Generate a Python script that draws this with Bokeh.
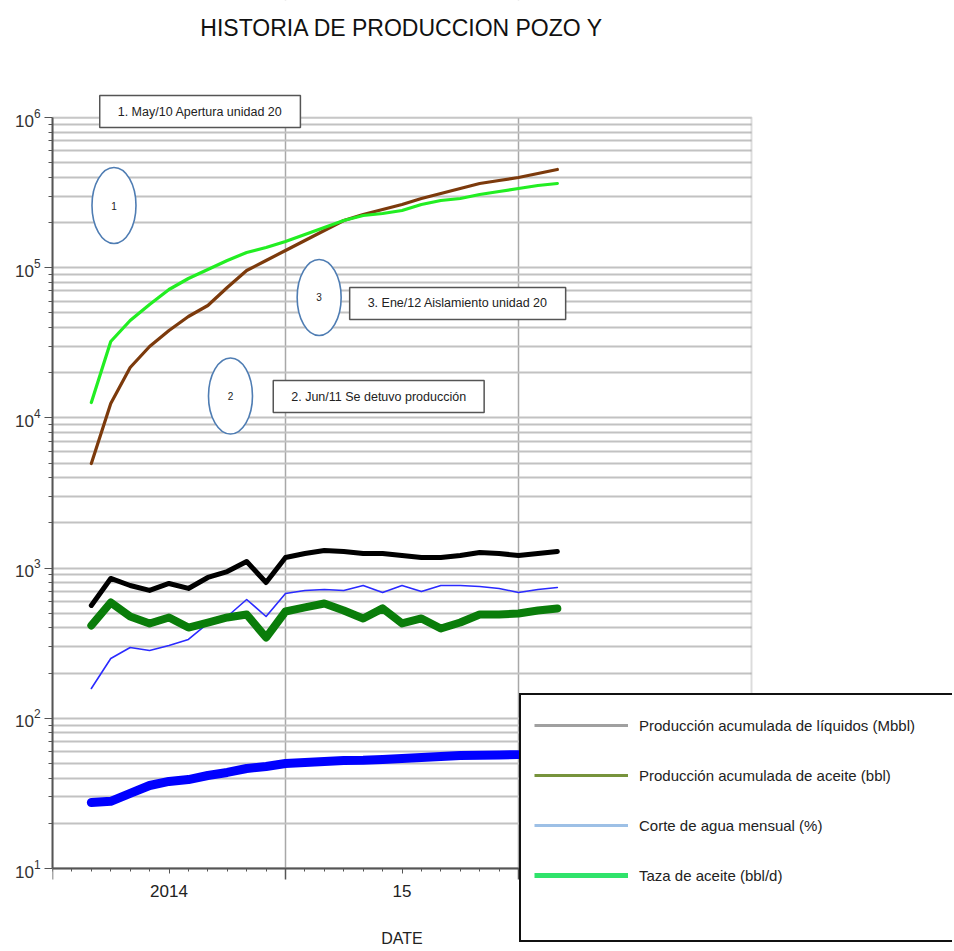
from bokeh.plotting import figure
from bokeh.models import (Range1d, FixedTicker, Label, Legend, LegendItem, BoxAnnotation,
                          LinearAxis)
from bokeh.core.properties import value
from bokeh.embed import file_html
from bokeh.resources import INLINE

# ---------------- data ----------------
fechas = ["2014-03", "2014-04", "2014-05", "2014-06", "2014-07", "2014-08", "2014-09",
          "2014-10", "2014-11", "2014-12", "2015-01", "2015-02", "2015-03", "2015-04",
          "2015-05", "2015-06", "2015-07", "2015-08", "2015-09", "2015-10", "2015-11",
          "2015-12", "2016-01", "2016-02", "2016-03"]

serie_marron = [4970, 12470, 21660, 29890, 38170, 47330, 56020, 73830, 95810, 111700,
                130200, 151800, 176800, 206200, 226000, 244000, 263500, 288800, 311900,
                336700, 363600, 380700, 398600, 423800, 450700]
serie_verde = [12660, 32270, 44510, 56890, 71580, 84750, 97270, 111700, 126300, 136300,
               149400, 166300, 185200, 206200, 222700, 229600, 240400, 263500, 280200,
               288800, 307200, 321700, 336700, 352600, 363600]
serie_negra = [564, 853, 766, 710, 790, 732, 866, 949, 1106, 802, 1176, 1251, 1310, 1290,
               1251, 1251, 1213, 1176, 1176, 1213, 1270, 1251, 1213, 1251, 1290]
serie_verde_oscuro = [415, 590, 476, 428, 469, 402, 434, 469, 491, 345, 514, 547, 581, 522,
                      462, 539, 428, 462, 396, 434, 491, 491, 499, 522, 539]
serie_azul_fina = [158, 250, 296, 283, 305, 335, 428, 476, 618, 476, 678, 710, 721, 710,
                   766, 688, 766, 699, 766, 766, 754, 732, 688, 721, 743]
serie_azul_gruesa = [27.5, 28.0, 31.6, 35.7, 38.0, 39.1, 41.6, 43.6, 46.3, 47.8, 50.0, 50.8,
                     51.6, 52.4, 52.6, 53.2, 54.0, 54.8, 55.7, 56.5, 56.8, 57.0, 57.3, 57.6, 58.0]

# x-axis tick labels (mid-year) and year boundaries
etiquetas_x = {"2014-07": "2014", "2015-07": "15", "2016-07": "16"}
limites_anio = ["2014-01", "2015-01", "2016-01", "2017-01"]
decadas_y = [10, 100, 1000, 10000, 100000, 1000000]

titulo = "HISTORIA DE PRODUCCION POZO Y"
eje_x_titulo = "DATE"

# legend (as printed in the chart's legend box)
leyenda_textos = ["Producción acumulada de líquidos (Mbbl)",
                  "Producción acumulada de aceite (bbl)",
                  "Corte de agua mensual (%)",
                  "Taza de aceite (bbl/d)"]

# annotations: (text, date, value)
notas_caja = [("1. May/10 Apertura unidad 20", "2014-08-19", 1.096e6),
              ("3. Ene/12 Aislamiento unidad 20", "2015-09-27", 57780),
              ("2. Jun/11 Se detuvo producción", "2015-05-25", 13880)]
notas_circulo = [("1", "2014-04-06", 259400),
                 ("2", "2014-10-06", 13990),
                 ("3", "2015-02-23", 63330)]


def mes(s):
    parts = [int(v) for v in s.split("-")]
    y, m = parts[0], parts[1]
    base = (y - 2014) * 12 + (m - 1)
    if len(parts) == 3:
        base += (parts[2] - 1) / 30.0
    return base


x = [mes(f) for f in fechas]

# ---------------- layout constants (pixels) ----------------
W, H = 952, 948
FRAME_LEFT = 52          # left edge of plotting area
PLOT_RIGHT = 751         # right border of the axes box
PLOT_TOP = 117           # y pixel of 10^6
PLOT_BOTTOM = 868        # y pixel of 10^1
X0, X1 = mes(limites_anio[0]), mes(limites_anio[-1])
Y_LO, Y_HI = decadas_y[0], decadas_y[-1]

px_per_month = (PLOT_RIGHT - FRAME_LEFT) / (X1 - X0)
px_per_dec = (PLOT_BOTTOM - PLOT_TOP) / 5.0
x_end = X0 + (W - FRAME_LEFT) / px_per_month
y_top = 10 ** (6 + PLOT_TOP / px_per_dec)
y_bot = 10 ** (1 - (H - PLOT_BOTTOM) / px_per_dec)

FONT = "Liberation Sans"
AX = "#555555"

p = figure(width=W, height=H, x_range=Range1d(X0, x_end), y_range=Range1d(y_bot, y_top),
           y_axis_type="log", output_backend="svg", toolbar_location=None, title=None,
           min_border_left=FRAME_LEFT, min_border_right=0, min_border_top=0,
           min_border_bottom=0)

p.background_fill_color = "white"
p.border_fill_color = "white"
p.outline_line_color = None

# ---------------- y axis ----------------
yax = p.yaxis[0]
yax.ticker = FixedTicker(ticks=decadas_y,
                         minor_ticks=[k * d for d in decadas_y[:-1] for k in range(2, 10)])
yax.bounds = (Y_LO, Y_HI)
yax.axis_line_color = AX
yax.axis_line_width = 2
yax.major_tick_line_color = AX
yax.minor_tick_line_color = AX
yax.major_tick_out = 8
yax.major_tick_in = 0
yax.minor_tick_out = 4
yax.minor_tick_in = 0
yax.major_label_text_font = FONT
yax.major_label_text_font_size = "17px"
yax.major_label_text_color = "#333333"
yax.major_label_standoff = 4

# ---------------- x axis ----------------
xax = p.xaxis[0]
xax.ticker = FixedTicker(ticks=[mes(k) for k in etiquetas_x],
                         minor_ticks=list(range(int(X0), int(X1) + 1)))
xax.major_label_overrides = {mes(k): v for k, v in etiquetas_x.items()}
xax.fixed_location = Y_LO
xax.bounds = (X0, X1)
xax.axis_line_color = AX
xax.axis_line_width = 2
xax.major_tick_line_color = AX
xax.minor_tick_line_color = AX
xax.major_tick_out = 5
xax.major_tick_in = 0
xax.minor_tick_out = 3
xax.minor_tick_in = 0
xax.major_label_text_font = FONT
xax.major_label_text_font_size = "17px"
xax.major_label_text_color = "#222222"
xax.major_label_standoff = 11
xax.axis_label = eje_x_titulo
xax.axis_label_text_font = FONT
xax.axis_label_text_font_size = "16px"
xax.axis_label_text_font_style = "normal"
xax.axis_label_text_color = "#222222"
xax.axis_label_standoff = 30

# longer ticks at the year boundaries
xax2 = LinearAxis(ticker=FixedTicker(ticks=[mes(k) for k in limites_anio], minor_ticks=[]),
                  fixed_location=Y_LO, bounds=(X0, X1), axis_line_color=None,
                  major_tick_line_color=AX, major_tick_line_width=1.5,
                  major_tick_out=11, major_tick_in=0, minor_tick_line_color=None,
                  major_label_text_font_size="0px", major_label_text_alpha=0)
p.add_layout(xax2, "below")

# ---------------- grids ----------------
p.ygrid.grid_line_color = "#c2c2c2"
p.ygrid.grid_line_width = 2
p.ygrid.minor_grid_line_color = "#c2c2c2"
p.ygrid.minor_grid_line_width = 2
p.xgrid.ticker = FixedTicker(ticks=[mes(k) for k in limites_anio[1:3]])
p.xgrid.grid_line_color = "#a8a8a8"
p.xgrid.grid_line_width = 1.5

# keep grid lines inside the axes box
for kw_box in (dict(left=X1), dict(bottom=Y_HI), dict(top=Y_LO)):
    p.add_layout(BoxAnnotation(fill_color="white", fill_alpha=1.0, line_color=None,
                               level="underlay", **kw_box))
p.add_layout(BoxAnnotation(left=X0, right=X1, bottom=Y_LO, top=Y_HI, fill_alpha=0.0,
                           line_color="#8a8a8a", line_width=2, level="underlay"))

# ---------------- title ----------------
p.add_layout(Label(x=(X0 + X1) / 2, y=H - 27, y_units="screen", text=titulo,
                   text_align="center", text_baseline="middle", text_font=FONT,
                   text_font_size="23px", text_color="#111111"))

# ---------------- data lines ----------------
kw = dict(line_join="round", line_cap="round")
p.line(x, serie_azul_gruesa, line_color="#0000ff", line_width=9, **kw)
p.line(x, serie_azul_fina, line_color="#2a2aff", line_width=1.6, **kw)
p.line(x, serie_verde_oscuro, line_color="#0a7d0a", line_width=8, **kw)
p.line(x, serie_negra, line_color="#000000", line_width=5, **kw)
p.line(x, serie_marron, line_color="#7c3a0c", line_width=3.2, **kw)
p.line(x, serie_verde, line_color="#22ee22", line_width=3.2, **kw)

# ---------------- circles with numbers ----------------
cx = [mes(d) for _, d, _ in notas_circulo]
cy = [v for _, _, v in notas_circulo]
p.ellipse(x=cx, y=cy, width=44, height=76, width_units="screen", height_units="screen",
          fill_color="white", line_color="#4f7db3", line_width=1.6)
p.text(x=cx, y=cy, text=[t for t, _, _ in notas_circulo], text_align="center",
       text_baseline="middle", text_font=value(FONT), text_font_size="10px",
       text_color="#222222")

# ---------------- boxed notes ----------------
for t, d, v in notas_caja:
    p.add_layout(Label(x=mes(d), y=v, text=t, text_align="center", text_baseline="middle",
                       text_font=FONT, text_font_size="12.5px", text_color="#222222",
                       border_line_color="#555555", border_line_width=1.5,
                       background_fill_color="white", padding=(18, 9)))

# ---------------- legend box ----------------
# legend glyphs use single-point (invisible) lines that only carry the legend style
leg_colors = ["#a0a0a0", "#77933c", "#9dc0e6", "#2fe36b"]
leg_widths = [3, 3, 3, 5]
items = []
for lab, col, w in zip(leyenda_textos, leg_colors, leg_widths):
    r = p.line(x=[x[0]], y=[serie_negra[0]], line_color=col, line_width=w)
    items.append(LegendItem(label=lab, renderers=[r]))

legend = Legend(items=items, location=(519 - FRAME_LEFT, 6), glyph_width=94,
                glyph_height=34, label_height=34, label_standoff=11, spacing=16,
                padding=13, margin=0, label_width=310, label_text_font=FONT,
                label_text_font_size="15px", label_text_color="#222222",
                border_line_color="#111111", border_line_width=2, border_line_alpha=1.0,
                background_fill_color="white", background_fill_alpha=1.0)
legend.title = " "
legend.title_text_font_size = "16px"
legend.title_standoff = 17
try:
    legend.title_location = "below"
except Exception:
    pass
p.add_layout(legend, "center")

open("out.html", "w").write(file_html(p, INLINE))
